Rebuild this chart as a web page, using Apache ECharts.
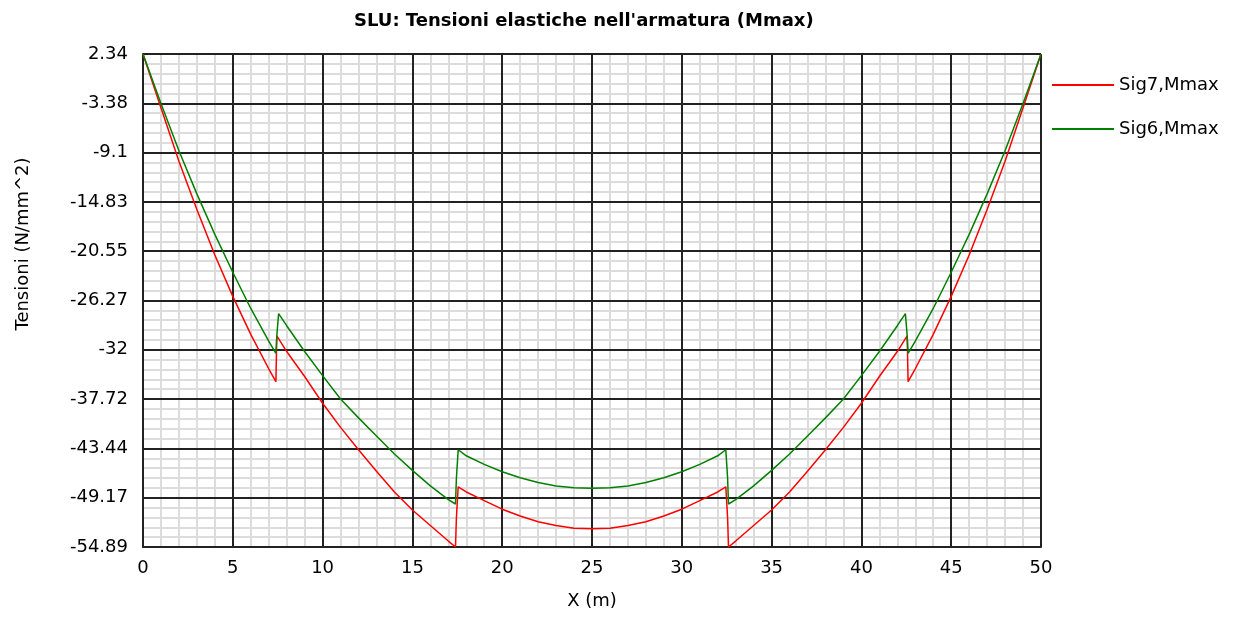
<!DOCTYPE html>
<html>
<head>
<meta charset="utf-8">
<script src="https://cdn.jsdelivr.net/npm/echarts@6/dist/echarts.min.js"></script>
<style>
html,body{margin:0;padding:0;background:#fff;}
#chart{width:1233px;height:619px;}
</style>
</head>
<body>
<div id="chart"></div>
<script>
// ---- data ----
var titleText = "SLU: Tensioni elastiche nell'armatura (Mmax)";
var xName = "X (m)";
var yName = "Tensioni (N/mm^2)";
var seriesNames = ["Sig7,Mmax", "Sig6,Mmax"];
var yTickLabels = ["-54.89","-49.17","-43.44","-37.72","-32","-26.27","-20.55","-14.83","-9.1","-3.38","2.34"];
var yMin = -54.89;
var yMax = 2.34;

var xs = [0,1,2,3,4,5,6,7,7.4,7.45,7.55,8,9,10,11,12,13,14,15,16,17,17.4,17.45,17.55,18,19,20,21,22,23,24,25,
          26,27,28,29,30,31,32,32.45,32.55,32.6,33,34,35,36,37,38,39,40,41,42,42.45,42.55,42.6,43,44,45,46,47,48,49,50];

var sig7 = [2.34,-3.9,-10.1,-15.7,-21.0,-25.8,-30.2,-34.2,-35.7,-30.4,-30.7,-32.2,-35.1,-38.2,-41.0,-43.6,-46.1,-48.5,-50.6,-52.4,-54.2,-54.89,-51.5,-47.9,-48.5,-49.5,-50.5,-51.3,-51.95,-52.4,-52.7,-52.77,
            -52.7,-52.4,-51.95,-51.3,-50.5,-49.5,-48.5,-47.9,-51.5,-54.89,-54.2,-52.4,-50.6,-48.5,-46.1,-43.6,-41.0,-38.2,-35.1,-32.2,-30.7,-30.4,-35.7,-34.2,-30.2,-25.8,-21.0,-15.7,-10.1,-3.9,2.34];

var sig6 = [2.34,-3.4,-8.9,-13.9,-18.6,-23.0,-27.2,-31.0,-32.4,-30.4,-27.8,-29.2,-32.2,-35.0,-37.7,-39.9,-42.0,-44.1,-46.0,-47.8,-49.4,-49.9,-46.9,-43.6,-44.3,-45.3,-46.15,-46.85,-47.4,-47.8,-48.0,-48.08,
            -48.0,-47.8,-47.4,-46.85,-46.15,-45.3,-44.3,-43.6,-46.9,-49.9,-49.4,-47.8,-46.0,-44.1,-42.0,-39.9,-37.7,-35.0,-32.2,-29.2,-27.8,-30.4,-32.4,-31.0,-27.2,-23.0,-18.6,-13.9,-8.9,-3.4,2.34];

// ---- chart ----
var FONT = "DejaVu Sans";
var chart = echarts.init(document.getElementById('chart'), null, {renderer:'canvas'});

function pairs(ys){ return xs.map(function(x,i){ return [x, ys[i]]; }); }

var option = {
  animation: false,
  backgroundColor: '#fff',
  title: {
    text: titleText,
    left: 349, top: 7,
    textStyle: {fontFamily: FONT, fontSize: 18, fontWeight: 'bold', color: '#000'}
  },
  legend: {
    orient: 'vertical',
    left: 1047, top: 70,
    icon: 'rect',
    itemWidth: 62, itemHeight: 2,
    itemGap: 24,
    data: seriesNames,
    textStyle: {fontFamily: FONT, fontSize: 18, color: '#000', lineHeight: 20}
  },
  grid: {left: 143, right: 192, top: 54, bottom: 72, containLabel: false},
  xAxis: [
    {
      type: 'value', min: 0, max: 50, interval: 5, z: 1, position: 'bottom',
      name: xName, nameLocation: 'middle', nameGap: 45,
      nameTextStyle: {fontFamily: FONT, fontSize: 18, color: '#000'},
      axisLine: {show: true, onZero: false, lineStyle: {color: '#222', width: 2}},
      axisTick: {show: false},
      axisLabel: {fontFamily: FONT, fontSize: 18, color: '#000', margin: 12},
      splitLine: {show: true, lineStyle: {color: '#222', width: 2}}
    },
    {
      type: 'value', min: 0, max: 50, interval: 5, z: 0, position: 'bottom',
      axisLine: {show: false, onZero: false}, axisTick: {show: false}, axisLabel: {show: false},
      splitLine: {show: false},
      minorTick: {show: false, splitNumber: 5},
      minorSplitLine: {show: true, lineStyle: {color: '#dcdcdc', width: 2}}
    }
  ],
  yAxis: [
    {
      type: 'value', min: yMin, max: yMax, show: false, position: 'left',
      axisLine: {show: false, onZero: false}, axisTick: {show: false}, axisLabel: {show: false},
      splitLine: {show: false}
    },
    {
      type: 'value', min: 0, max: yTickLabels.length - 1, interval: 1, z: 1, position: 'left',
      axisLine: {show: true, onZero: false, lineStyle: {color: '#222', width: 2}},
      axisTick: {show: false},
      axisLabel: {
        fontFamily: FONT, fontSize: 18, color: '#000', margin: 15,
        formatter: function(v){ return yTickLabels[Math.round(v)]; }
      },
      splitLine: {show: true, lineStyle: {color: '#222', width: 2}}
    },
    {
      type: 'value', min: 0, max: yTickLabels.length - 1, interval: 1, z: 0, position: 'left',
      axisLine: {show: false, onZero: false}, axisTick: {show: false}, axisLabel: {show: false},
      splitLine: {show: false},
      minorTick: {show: false, splitNumber: 5},
      minorSplitLine: {show: true, lineStyle: {color: '#dcdcdc', width: 2}}
    }
  ],
  graphic: [
    {
      type: 'text', x: 23, y: 244, rotation: Math.PI / 2,
      style: {text: yName, fontFamily: FONT, fontSize: 18, fill: '#000', align: 'center', verticalAlign: 'middle'}
    }
  ],
  series: [
    {
      name: seriesNames[0], type: 'line', xAxisIndex: 0, yAxisIndex: 0,
      data: pairs(sig7), showSymbol: false, symbol: 'none',
      lineStyle: {color: '#ff0000', width: 1.5}, itemStyle: {color: '#ff0000'}, z: 3
    },
    {
      name: seriesNames[1], type: 'line', xAxisIndex: 0, yAxisIndex: 0,
      data: pairs(sig6), showSymbol: false, symbol: 'none',
      lineStyle: {color: '#008000', width: 1.5}, itemStyle: {color: '#008000'}, z: 3
    }
  ]
};
chart.setOption(option);
</script>
</body>
</html>
